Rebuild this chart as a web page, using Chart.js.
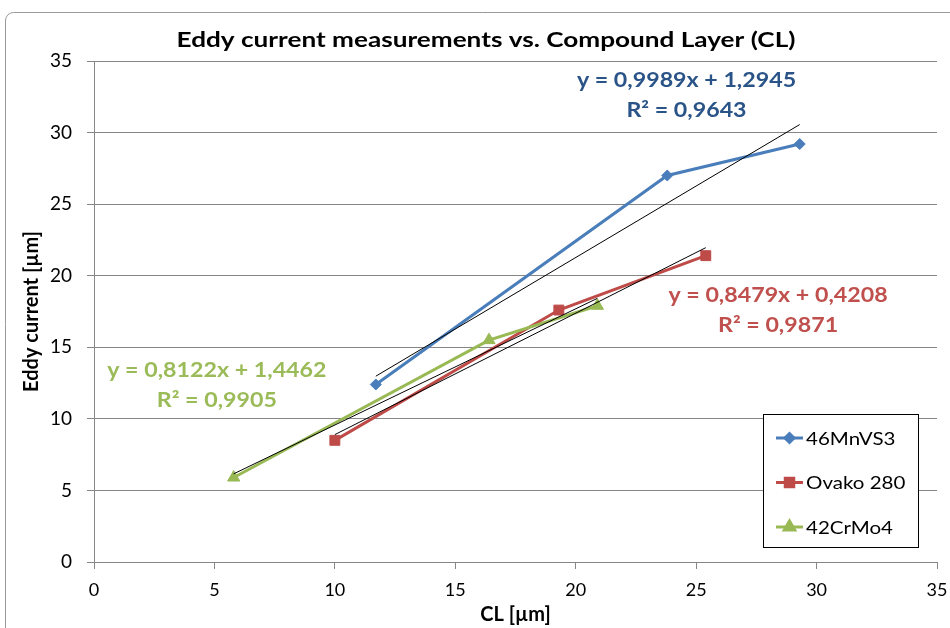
<!DOCTYPE html>
<html>
<head>
<meta charset="utf-8">
<title>Eddy current vs CL</title>
<script src="https://cdn.jsdelivr.net/npm/chart.js@4.4.1/dist/chart.umd.min.js"></script>
<style>
  html, body { margin: 0; padding: 0; background: #fff; }
  #wrap { width: 950px; height: 628px; }
</style>
</head>
<body>
<div id="wrap"><canvas id="chart" width="950" height="628"></canvas></div>
<script>
const seriesNames = ['46MnVS3', 'Ovako 280', '42CrMo4'];
const cl46 = [11.7, 23.8, 29.3];
const eddy46 = [12.4, 27.0, 29.2];
const clOvako = [10.0, 19.3, 25.4];
const eddyOvako = [8.5, 17.6, 21.4];
const cl42 = [5.8, 16.4, 20.9];
const eddy42 = [5.9, 15.5, 17.9];

// trendline ends (x, y) as drawn in the picture
const trendX46 = [11.7, 29.3];
const trendY46 = [12.98, 30.56];
const trendXOvako = [10.0, 25.4];
const trendYOvako = [8.9, 21.96];
const trendX42 = [5.8, 20.9];
const trendY42 = [6.16, 18.42];

const equations = [
  ['y = 0,9989x + 1,2945', 'R² = 0,9643'],
  ['y = 0,8479x + 0,4208', 'R² = 0,9871'],
  ['y = 0,8122x + 1,4462', 'R² = 0,9905']
];

const axisTicks = [0, 5, 10, 15, 20, 25, 30, 35];

const colors = ['#4A7EBB', '#BE4B48', '#98B954'];
const textColors = ['#2A5488', '#C0504D', '#9BBB59'];
const markers = ['rectRot', 'rect', 'triangle'];
const markerSizes = [5.5, 7, 7];
const FONT = 'Lato, "Open Sans", sans-serif';

function pts(xs, ys) {
  return xs.map((x, i) => ({ x: x, y: ys[i] }));
}

// the original text is wider than Lato, so stretch it a little
function wideText(ctx, text, x, y, sx) {
  ctx.save();
  ctx.translate(x, y);
  ctx.scale(sx, 1);
  ctx.fillText(text, 0, 0);
  ctx.restore();
}

const seriesData = [pts(cl46, eddy46), pts(clOvako, eddyOvako), pts(cl42, eddy42)];
const trendData = [pts(trendX46, trendY46), pts(trendXOvako, trendYOvako), pts(trendX42, trendY42)];

const datasets = [];
seriesData.forEach((d, i) => {
  datasets.push({
    label: seriesNames[i],
    data: d,
    borderColor: colors[i],
    backgroundColor: colors[i],
    borderWidth: 3,
    pointStyle: markers[i],
    pointRadius: markerSizes[i],
    pointBorderWidth: 1,
    showLine: true,
    order: 3 - i
  });
});
trendData.forEach((d, i) => {
  datasets.push({
    label: 'trend ' + seriesNames[i],
    data: d,
    borderColor: '#000',
    borderWidth: 1,
    pointRadius: 0,
    showLine: true,
    order: 0
  });
});

// equation labels placed in data units
const eqPos = [[24.6, 33.6], [28.4, 18.6], [5.1, 13.4]];

const decorPlugin = {
  id: 'decor',
  beforeDraw(chart) {
    const ctx = chart.ctx;
    ctx.save();
    ctx.strokeStyle = '#9a9a9a';
    ctx.lineWidth = 1;
    ctx.beginPath();
    ctx.moveTo(5.5, 640);
    ctx.lineTo(5.5, 20);
    ctx.arcTo(5.5, 12.5, 13.5, 12.5, 8);
    ctx.lineTo(960, 12.5);
    ctx.stroke();
    ctx.restore();
  },
  afterDraw(chart) {
    const ctx = chart.ctx;
    const xs = chart.scales.x, ys = chart.scales.y;
    ctx.save();
    ctx.textAlign = 'center';
    ctx.textBaseline = 'middle';

    // title
    ctx.fillStyle = '#000';
    ctx.font = 'bold 21px ' + FONT;
    wideText(ctx, 'Eddy current measurements vs. Compound Layer (CL)', 486, 40, 1.245);

    // trendline equations
    ctx.font = 'bold 20px ' + FONT;
    equations.forEach((lines, i) => {
      const px = xs.getPixelForValue(eqPos[i][0]);
      const py = ys.getPixelForValue(eqPos[i][1]);
      ctx.fillStyle = textColors[i];
      wideText(ctx, lines[0], px, py, 1.16);
      wideText(ctx, lines[1], px, py + 30, 1.16);
    });

    // legend box
    const lx = 763.5, ly = 414.5, lw = 155, lh = 133;
    ctx.fillStyle = '#fff';
    ctx.fillRect(lx, ly, lw, lh);
    ctx.strokeStyle = '#000';
    ctx.lineWidth = 1;
    ctx.strokeRect(lx, ly, lw, lh);
    ctx.font = '18px ' + FONT;
    ctx.textAlign = 'left';
    seriesNames.forEach((name, i) => {
      const y = 438 + i * 44.5;
      ctx.strokeStyle = colors[i];
      ctx.lineWidth = 3;
      ctx.beginPath();
      ctx.moveTo(776, y);
      ctx.lineTo(803, y);
      ctx.stroke();
      ctx.fillStyle = colors[i];
      Chart.helpers.drawPoint(ctx, { pointStyle: markers[i], radius: markerSizes[i] - 1, rotation: 0, borderWidth: 1 }, 789.5, y);
      ctx.fillStyle = '#000';
      wideText(ctx, name, 806, y + 1, 1.14);
    });
    ctx.restore();
  }
};

new Chart(document.getElementById('chart'), {
  type: 'scatter',
  data: { datasets: datasets },
  plugins: [decorPlugin],
  options: {
    responsive: false,
    animation: false,
    layout: { padding: { left: 0, right: 13, top: 61, bottom: 0 } },
    plugins: {
      legend: { display: false },
      title: { display: false },
      tooltip: { enabled: false }
    },
    scales: {
      x: {
        type: 'linear',
        min: 0,
        max: 35,
        afterBuildTicks(scale) { scale.ticks = axisTicks.map(v => ({ value: v })); },
        afterFit(scale) { scale.height = 66; scale.paddingRight = 0; scale.paddingLeft = 0; },
        border: { color: '#868686', width: 1 },
        grid: { drawOnChartArea: false, drawTicks: true, tickLength: 7, color: '#868686' },
        ticks: { color: '#000', font: { family: FONT, size: 18 }, padding: 10, maxRotation: 0 },
        title: {
          display: true,
          text: 'CL [µm]',
          color: '#000',
          font: { family: FONT, size: 20, weight: 'bold' },
          padding: { top: 0, bottom: 1 }
        }
      },
      y: {
        type: 'linear',
        min: 0,
        max: 35,
        afterBuildTicks(scale) { scale.ticks = axisTicks.map(v => ({ value: v })); },
        afterFit(scale) { scale.width = 94; scale.paddingTop = 0; scale.paddingBottom = 0; },
        border: { color: '#868686', width: 1 },
        grid: { drawTicks: true, tickLength: 7, color: '#868686' },
        ticks: { color: '#000', font: { family: FONT, size: 19 }, padding: 15 },
        title: {
          display: true,
          text: 'Eddy current [µm]',
          color: '#000',
          font: { family: FONT, size: 20, weight: 'bold' },
          padding: { top: 20, bottom: 0 }
        }
      }
    }
  }
});
</script>
</body>
</html>
